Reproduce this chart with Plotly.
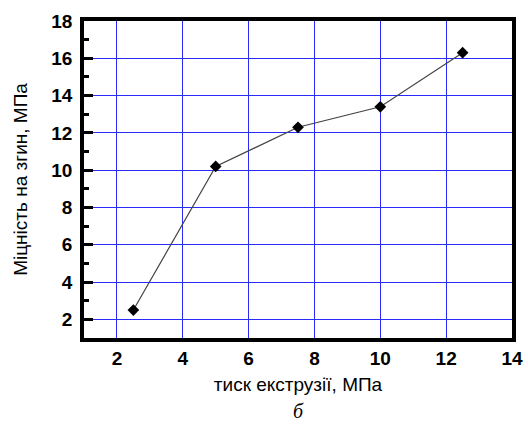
import plotly.graph_objects as go

pressure = [2.5, 5, 7.5, 10, 12.5]
strength = [2.5, 10.2, 12.3, 13.4, 16.3]
x_ticks = [2, 4, 6, 8, 10, 12, 14]
y_ticks = [2, 4, 6, 8, 10, 12, 14, 16, 18]

fig = go.Figure()
fig.add_trace(go.Scatter(
    x=pressure, y=strength, mode="lines+markers",
    line=dict(color="#444444", width=1.2),
    marker=dict(symbol="diamond", size=9, color="black"),
    showlegend=False,
))

font = "Liberation Sans, Arial, sans-serif"
grid = "#2a2aff"
fig.update_layout(
    width=528, height=427,
    margin=dict(l=84, r=16, t=21, b=89),
    paper_bgcolor="white", plot_bgcolor="white",
    xaxis=dict(
        range=[1, 14], tickvals=x_ticks, ticks="", automargin=False,
        showgrid=True, gridcolor=grid, gridwidth=1,
        showline=True, linecolor="black", linewidth=3.5, mirror=True,
        zeroline=False,
        tickfont=dict(family=font, size=19, color="black", weight="bold"),
        title=dict(text="тиск екструзії, МПа", font=dict(family=font, size=19, color="black"), standoff=11),
    ),
    yaxis=dict(
        range=[1, 18], tickvals=y_ticks, ticks="inside", ticklen=9, tickwidth=3, tickcolor="black",
        automargin=False, ticklabelstandoff=4,
        minor=dict(dtick=1, tick0=1, ticks="inside", ticklen=5, tickwidth=2.5, tickcolor="black", showgrid=False),
        showgrid=True, gridcolor=grid, gridwidth=1,
        showline=True, linecolor="black", linewidth=3.5, mirror=True,
        zeroline=False,
        tickfont=dict(family=font, size=19, color="black", weight="bold"),
        title=dict(text="Міцність на згин, МПа", font=dict(family=font, size=19, color="black"), standoff=20),
    ),
    annotations=[dict(
        text="б", xref="paper", yref="paper", x=0.5, y=-0.19,
        xanchor="center", yanchor="top", showarrow=False,
        font=dict(family="Liberation Serif, Times New Roman, serif", size=20, color="black", style="italic"),
    )],
)

fig.write_html(
    "out.html",
    config={"displayModeBar": False},
    post_script="document.body.style.margin='0';document.body.style.overflow='hidden';",
)
